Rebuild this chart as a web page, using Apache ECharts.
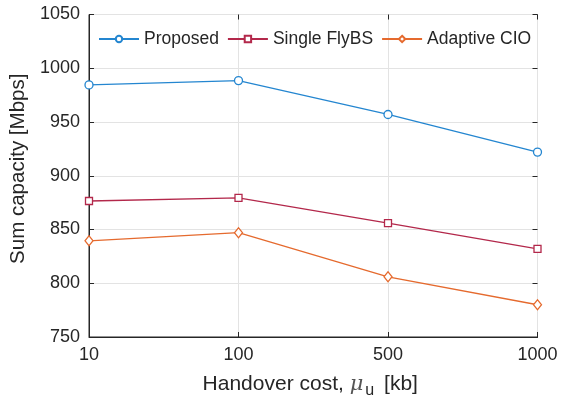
<!DOCTYPE html>
<html>
<head>
<meta charset="utf-8">
<script src="https://cdn.jsdelivr.net/npm/echarts@6/dist/echarts.min.js"></script>
<style>
html,body{margin:0;padding:0;background:#fff;}
#chart{width:570px;height:401px;}
</style>
</head>
<body>
<div id="chart"></div>
<script>
const categories = ['10', '100', '500', '1000'];
const proposed = [984.5, 988.5, 957, 922];
const singleFlyBS = [876.5, 879.5, 856, 832];
const adaptiveCIO = [839.5, 847, 806, 780];
const yTicks = [750, 800, 850, 900, 950, 1000, 1050];

const font = '"Liberation Sans", Arial, Helvetica, sans-serif';
const txt = '#262626';
const chart = echarts.init(document.getElementById('chart'), null, {renderer: 'canvas'});

function mkSeries(name, data, color, symbol, size) {
  return {
    name: name, type: 'line', data: data,
    xAxisIndex: 0, yAxisIndex: 0,
    symbol: symbol, symbolSize: size,
    showAllSymbol: true,
    lineStyle: {color: color, width: 1.3},
    itemStyle: {color: '#fff', borderColor: color, borderWidth: 1.3},
    emphasis: {disabled: true},
    animation: false
  };
}

const option = {
  animation: false,
  textStyle: {fontFamily: font, color: txt},
  grid: {left: 89, right: 32.5, top: 14.5, bottom: 64, show: true, borderColor: txt, borderWidth: 1,
    backgroundColor: 'transparent', containLabel: false, outerBoundsMode: 'none'},
  legend: {
    left: 98, top: 30, padding: 0, itemWidth: 40, itemHeight: 8, itemGap: 8,
    textStyle: {fontFamily: font, fontSize: 17.5, color: txt},
    data: ['Proposed', 'Single FlyBS', 'Adaptive CIO']
  },
  xAxis: [{
    type: 'category', data: categories, boundaryGap: false,
    axisLine: {show: true, lineStyle: {color: txt, width: 1}},
    axisTick: {show: true, inside: true, length: 5, lineStyle: {color: txt}},
    axisLabel: {fontSize: 18, color: txt, margin: 9, fontFamily: font},
    splitLine: {show: true, lineStyle: {color: '#e3e3e3', width: 1}},
    name: 'Handover cost, {mu|μ}{sub|u} [kb]',
    nameLocation: 'middle', nameGap: 33,
    nameTextStyle: {
      fontSize: 21, color: txt, fontFamily: font, padding: [0, 6, 0, 0],
      rich: {
        mu: {fontSize: 21, fontStyle: 'italic', fontFamily: '"DejaVu Serif", serif', color: '#555'},
        sub: {fontSize: 16, color: txt, padding: [13, 4, 0, 2], fontFamily: font}
      }
    }
  }, {
    type: 'category', data: categories, boundaryGap: false, position: 'top',
    axisLine: {show: false},
    axisTick: {show: true, inside: true, length: 5, lineStyle: {color: txt}},
    axisLabel: {show: false}, splitLine: {show: false}
  }],
  yAxis: [{
    type: 'value', min: 750, max: 1050, interval: 50,
    axisLine: {show: true, lineStyle: {color: txt, width: 1}},
    axisTick: {show: true, inside: true, length: 5, lineStyle: {color: txt}},
    axisLabel: {fontSize: 18, color: txt, margin: 9, fontFamily: font,
      formatter: function (v) { return yTicks.indexOf(v) >= 0 ? String(v) : ''; }},
    splitLine: {show: true, lineStyle: {color: '#e3e3e3', width: 1}},
    name: 'Sum capacity [Mbps]', nameLocation: 'middle', nameGap: 52,
    nameTextStyle: {fontSize: 20.5, color: txt, fontFamily: font, padding: [0, 0, 0, 14]}
  }, {
    type: 'value', min: 750, max: 1050, interval: 50, position: 'right',
    axisLine: {show: false},
    axisTick: {show: true, inside: true, length: 5, lineStyle: {color: txt}},
    axisLabel: {show: false}, splitLine: {show: false}
  }],
  series: [
    mkSeries('Proposed', proposed, '#2486d0', 'circle', 8),
    mkSeries('Single FlyBS', singleFlyBS, '#b3284b', 'rect', 7),
    mkSeries('Adaptive CIO', adaptiveCIO, '#e56a2e', 'diamond', [8, 10])
  ]
};
chart.setOption(option);
</script>
</body>
</html>
